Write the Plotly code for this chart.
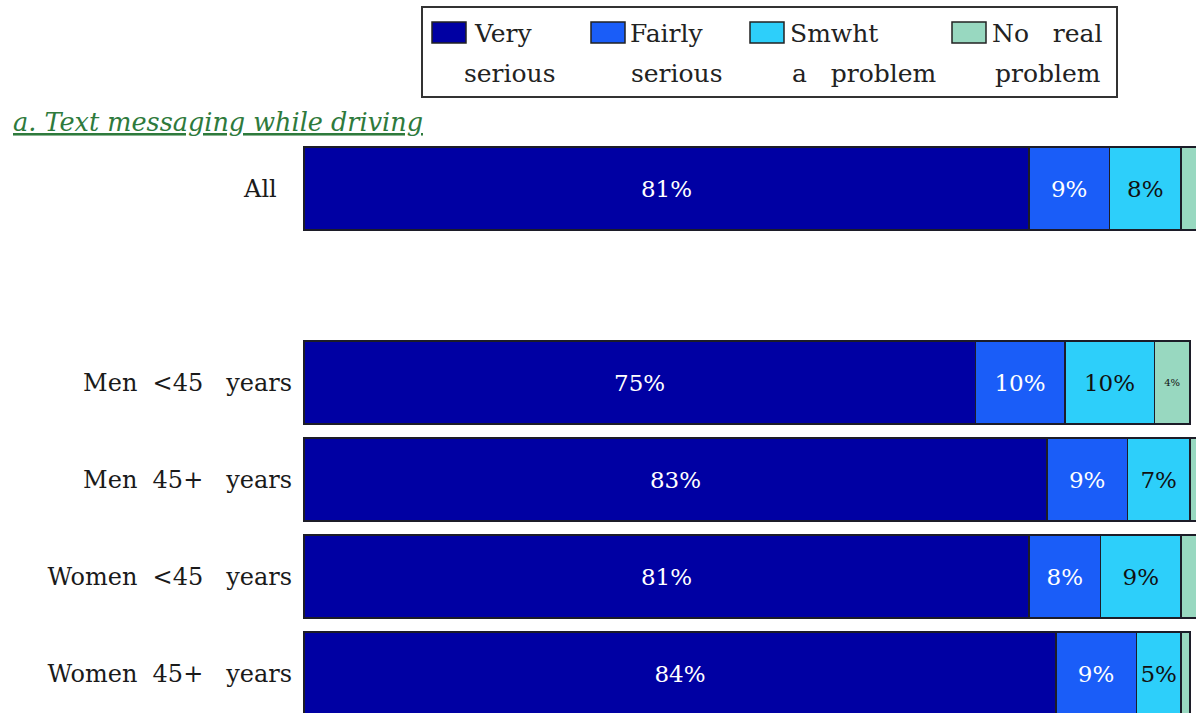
import plotly.graph_objects as go

# ---- data -------------------------------------------------------------
categories = ["All", "Men <45 years", "Men 45+ years", "Women <45 years", "Women 45+ years"]
tick_labels = [
    "All\u00a0\u00a0",
    "Men\u00a0\u00a0&lt;45\u00a0\u00a0\u00a0years",
    "Men\u00a0\u00a045+\u00a0\u00a0\u00a0years",
    "Women\u00a0\u00a0&lt;45\u00a0\u00a0\u00a0years",
    "Women\u00a0\u00a045+\u00a0\u00a0\u00a0years",
]
series_names = ["Very serious", "Fairly serious", "Smwht a problem", "No real problem"]
very_serious = [81, 75, 83, 81, 84]
fairly_serious = [9, 10, 9, 8, 9]
somewhat_problem = [8, 10, 7, 9, 5]
no_real_problem = [2, 4, 1, 2, 1]
# which segments of the last series carry a printed value
no_real_labelled = [False, True, False, False, False]

legend_lines = [
    ("Very", "serious"),
    ("Fairly", "serious"),
    ("Smwht", "a\u00a0\u00a0\u00a0problem"),
    ("No\u00a0\u00a0\u00a0real", "problem"),
]
title_text = "a. Text messaging while driving"

# ---- styling ----------------------------------------------------------
W, H = 1196, 713
colors = ["#0000A3", "#1A5DF8", "#2DCFFA", "#98D8C0"]
text_colors = ["white", "white", "#111111", "#111111"]
serif = "DejaVu Serif"
outline = "#1c1c28"

# row positions: a blank slot separates "All" from the sub-groups
ypos = [0] + [i + 1 for i in range(1, len(categories))]

def px_x(p):
    return p / W

def px_y(p):
    return 1 - p / H

fig = go.Figure()

all_series = [very_serious, fairly_serious, somewhat_problem, no_real_problem]
for k, (name, vals) in enumerate(zip(series_names, all_series)):
    if k < 3:
        labels = [f"{v}%" for v in vals]
        sizes = [23] * len(vals)
    else:
        labels = [f"{v}%" if show else "" for v, show in zip(vals, no_real_labelled)]
        sizes = [10] * len(vals)
    fig.add_trace(go.Bar(
        name=name,
        y=ypos,
        x=vals,
        orientation="h",
        marker=dict(color=colors[k], line=dict(color=outline, width=1.5)),
        text=labels,
        textposition="inside",
        insidetextanchor="middle",
        textangle=0,
        textfont=dict(family=serif, size=sizes, color=text_colors[k]),
        showlegend=False,
        hoverinfo="skip",
    ))

# ---- legend drawn as a boxed key -------------------------------------
shapes = [dict(
    type="rect", xref="paper", yref="paper",
    x0=px_x(422), x1=px_x(1117), y0=px_y(7), y1=px_y(97),
    line=dict(color="#333333", width=2), fillcolor="rgba(0,0,0,0)",
)]
annotations = []
swatch_left = [432, 591, 750, 952]
line1_left = [472, 628, 788, 990]
line2_left = [462, 629, 790, 993]
for k in range(len(series_names)):
    shapes.append(dict(
        type="rect", xref="paper", yref="paper",
        x0=px_x(swatch_left[k]), x1=px_x(swatch_left[k] + 34),
        y0=px_y(22), y1=px_y(43),
        line=dict(color="#222222", width=1.5), fillcolor=colors[k],
    ))
    for text, xl, yc in ((legend_lines[k][0], line1_left[k], 33),
                         (legend_lines[k][1], line2_left[k], 73)):
        annotations.append(dict(
            text=text, xref="paper", yref="paper",
            x=px_x(xl), y=px_y(yc), xanchor="left", yanchor="middle",
            showarrow=False, font=dict(family=serif, size=25, color="#222222"),
        ))

# section heading
annotations.append(dict(
    text=f"<i><u>{title_text}</u></i>", xref="paper", yref="paper",
    x=px_x(11), y=px_y(122), xanchor="left", yanchor="middle",
    showarrow=False, font=dict(family=serif, size=25.5, color="#2E7A3C"),
))

x_max = (W - 304) / 8.95
fig.update_layout(
    width=W, height=H,
    margin=dict(l=0, r=0, t=0, b=0),
    paper_bgcolor="white", plot_bgcolor="white",
    barmode="stack", bargap=0.144,
    shapes=shapes, annotations=annotations,
    xaxis=dict(domain=[303 / W, 1], range=[-0.12, x_max], visible=False, fixedrange=True),
    yaxis=dict(
        domain=[0, 1 - 140 / H],
        range=[5.407, -0.5],
        tickvals=ypos, ticktext=tick_labels,
        tickfont=dict(family=serif, size=24, color="#1a1a1a"),
        showgrid=False, zeroline=False, showline=False, ticks="",
        ticklabelstandoff=10, automargin=False, fixedrange=True,
    ),
)

fig.write_html("out.html")
